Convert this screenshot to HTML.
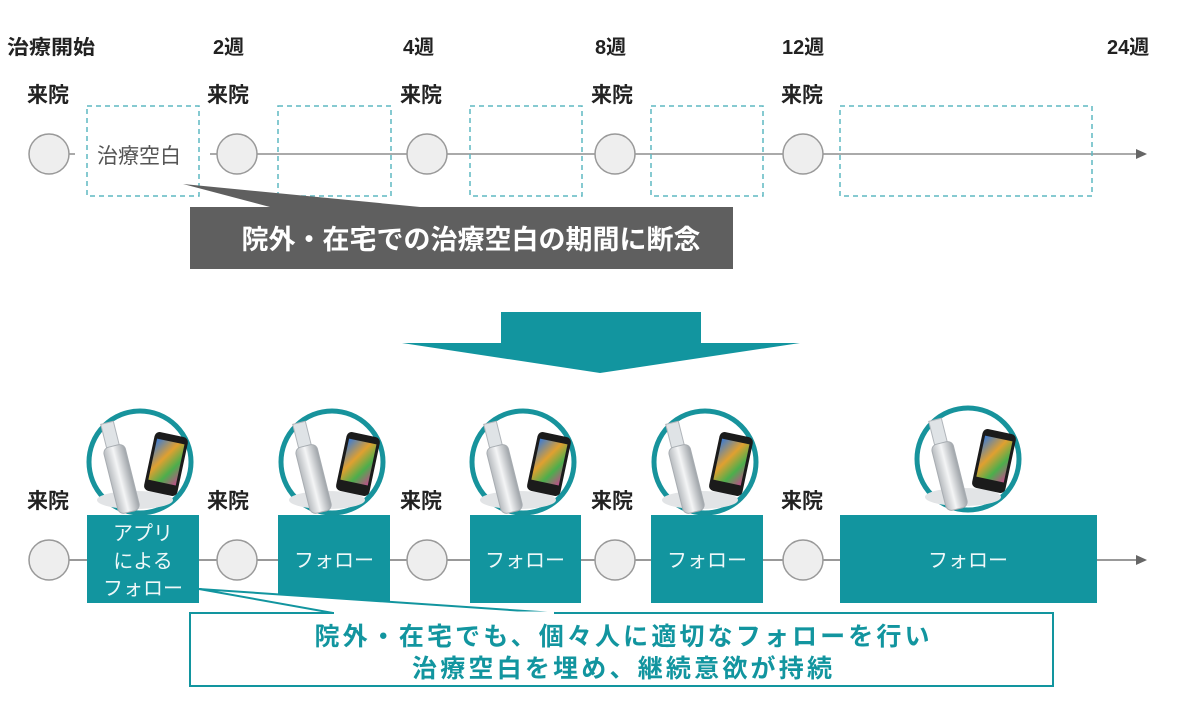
<!DOCTYPE html>
<html><head><meta charset="utf-8"><style>
html,body{margin:0;padding:0;background:#fff;}
svg{display:block;}
text{font-family:"Liberation Sans","Noto Sans CJK JP",sans-serif;}
</style></head><body>
<svg width="1186" height="710" viewBox="0 0 1186 710" xmlns="http://www.w3.org/2000/svg">
<defs>
<linearGradient id="bot" x1="0" x2="1" y1="0" y2="0">
<stop offset="0" stop-color="#b8bcc0"/><stop offset="0.45" stop-color="#f4f5f6"/><stop offset="1" stop-color="#9ea3a8"/>
</linearGradient>
<linearGradient id="scr" x1="0" x2="1" y1="0" y2="1">
<stop offset="0" stop-color="#3a7bd5"/><stop offset="0.4" stop-color="#e0a030"/><stop offset="0.7" stop-color="#4cae4c"/><stop offset="1" stop-color="#c04b8a"/>
</linearGradient>
<g id="ic">
<circle cx="0" cy="0" r="51" fill="#fff" stroke="#17939c" stroke-width="5"/>
<ellipse cx="-5" cy="38" rx="38" ry="9" fill="#e2e4e6"/>
<g transform="rotate(-14)">
<rect x="-29" y="-46" width="13" height="26" fill="#dfe3e6" stroke="#b0b5ba" stroke-width="1"/>
<rect x="-33" y="-22" width="22" height="68" rx="6" fill="url(#bot)" stroke="#a8adb2" stroke-width="1"/>
</g>
<g transform="translate(26,2) rotate(12)">
<rect x="-17" y="-30" width="34" height="60" rx="5" fill="#1b1b1b"/>
<rect x="-14" y="-23" width="28" height="42" fill="url(#scr)"/>
</g>
</g>
</defs>

<g font-size="20" font-weight="bold" fill="#222">
<text x="7" y="54" textLength="88" lengthAdjust="spacingAndGlyphs">治療開始</text>
<text x="213" y="54">2週</text>
<text x="403" y="54">4週</text>
<text x="595" y="54">8週</text>
<text x="782" y="54">12週</text>
<text x="1107" y="54">24週</text>
</g>
<g font-size="21" font-weight="bold" fill="#222">
<text x="27" y="102">来院</text>
<text x="207" y="102">来院</text>
<text x="400" y="102">来院</text>
<text x="591" y="102">来院</text>
<text x="781" y="102">来院</text>
</g>
<line x1="69" y1="154" x2="75" y2="154" stroke="#aaa" stroke-width="2"/>
<line x1="210" y1="154" x2="217" y2="154" stroke="#aaa" stroke-width="2"/>
<line x1="257" y1="154" x2="1138" y2="154" stroke="#aaa" stroke-width="2"/>
<polygon points="1136,149 1147,154 1136,159" fill="#666"/>
<g fill="none" stroke="#5fb8c2" stroke-width="1.5" stroke-dasharray="5,4">
<rect x="87" y="106" width="112" height="90"/>
<rect x="278" y="106" width="113" height="90"/>
<rect x="470" y="106" width="112" height="90"/>
<rect x="651" y="106" width="112" height="90"/>
<rect x="840" y="106" width="252" height="90"/>
</g>
<text x="97" y="163" font-size="21" fill="#555">治療空白</text>
<g fill="#eeeeee" stroke="#999" stroke-width="1.5">
<circle cx="49" cy="154" r="20"/><circle cx="237" cy="154" r="20"/><circle cx="427" cy="154" r="20"/><circle cx="615" cy="154" r="20"/><circle cx="803" cy="154" r="20"/>
</g>
<polygon points="183,184 420,207 270,207" fill="#5f5f5f"/>
<rect x="190" y="207" width="543" height="62" fill="#5f5f5f"/>
<text x="471" y="249" font-size="27" font-weight="bold" fill="#fff" text-anchor="middle">院外・在宅での治療空白の期間に断念</text>

<polygon points="501,312 701,312 701,343 800,343 600,373 402,343 501,343" fill="#12959f"/>

<line x1="69" y1="560" x2="1138" y2="560" stroke="#999" stroke-width="2"/>
<polygon points="1136,555 1147,560 1136,565" fill="#666"/>
<g fill="#12959f">
<rect x="87" y="515" width="112" height="88"/>
<rect x="278" y="515" width="112" height="88"/>
<rect x="470" y="515" width="111" height="88"/>
<rect x="651" y="515" width="112" height="88"/>
<rect x="840" y="515" width="257" height="88"/>
</g>
<use href="#ic" x="140" y="462"/>
<use href="#ic" x="332" y="462"/>
<use href="#ic" x="523" y="462"/>
<use href="#ic" x="705" y="462"/>
<use href="#ic" x="968" y="459"/>
<g font-size="21" font-weight="bold" fill="#222">
<text x="27" y="508">来院</text>
<text x="207" y="508">来院</text>
<text x="400" y="508">来院</text>
<text x="591" y="508">来院</text>
<text x="781" y="508">来院</text>
</g>
<g fill="#eeeeee" stroke="#999" stroke-width="1.5">
<circle cx="49" cy="560" r="20"/><circle cx="237" cy="560" r="20"/><circle cx="427" cy="560" r="20"/><circle cx="615" cy="560" r="20"/><circle cx="803" cy="560" r="20"/>
</g>
<g font-size="20" fill="#eef8f9" text-anchor="middle">
<text x="143" y="540">アプリ</text>
<text x="143" y="568">による</text>
<text x="143" y="595">フォロー</text>
<text x="334" y="567">フォロー</text>
<text x="525" y="567">フォロー</text>
<text x="707" y="567">フォロー</text>
<text x="968" y="567">フォロー</text>
</g>
<polygon points="199,589 333,613 555,613" fill="#fff" stroke="#12959f" stroke-width="2"/>
<rect x="190" y="613" width="863" height="73" fill="#fff" stroke="#12959f" stroke-width="2"/>
<line x1="334" y1="613" x2="554" y2="613" stroke="#fff" stroke-width="3"/>
<g font-size="25" font-weight="bold" fill="#12959f" text-anchor="middle">
<text x="622" y="645" textLength="615" lengthAdjust="spacing">院外・在宅でも、個々人に適切なフォローを行い</text>
<text x="622" y="677" textLength="420" lengthAdjust="spacing">治療空白を埋め、継続意欲が持続</text>
</g>
</svg>
</body></html>
